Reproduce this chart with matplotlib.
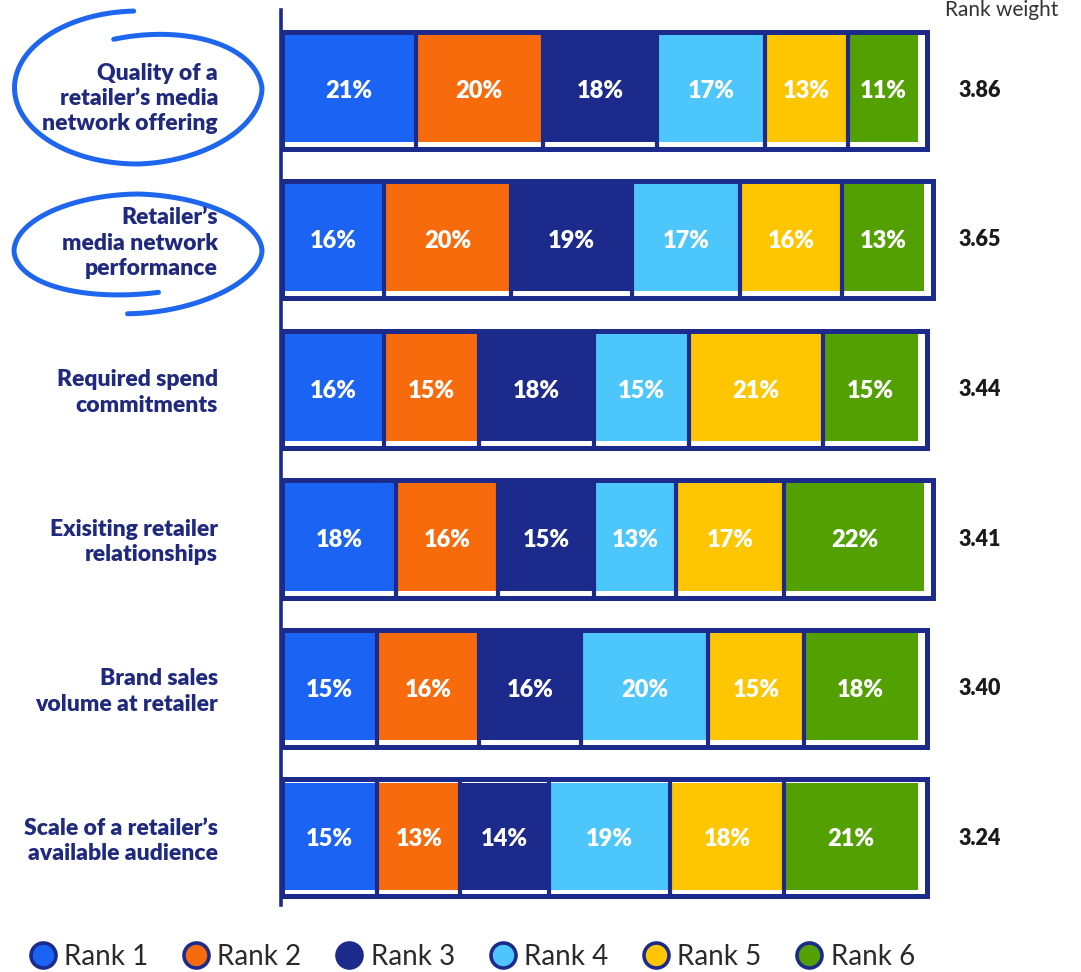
import numpy as np
import matplotlib
matplotlib.use("Agg")
import matplotlib.pyplot as plt
from matplotlib.patches import Rectangle
from matplotlib.lines import Line2D

plt.rcParams['font.family'] = ['Lato', 'DejaVu Sans']

factors = ["Quality of a\nretailer’s media\nnetwork offering",
           "Retailer’s\nmedia network\nperformance",
           "Required spend\ncommitments",
           "Exisiting retailer\nrelationships",
           "Brand sales\nvolume at retailer",
           "Scale of a retailer’s\navailable audience"]
rank1 = [21, 16, 16, 18, 15, 15]
rank2 = [20, 20, 15, 16, 16, 13]
rank3 = [18, 19, 18, 15, 16, 14]
rank4 = [17, 17, 15, 13, 20, 19]
rank5 = [13, 16, 21, 17, 15, 18]
rank6 = [11, 13, 15, 22, 18, 21]
rank_weight = ["3.86", "3.65", "3.44", "3.41", "3.40", "3.24"]
rank_names = ["Rank 1", "Rank 2", "Rank 3", "Rank 4", "Rank 5", "Rank 6"]

colors = ["#1b63f2", "#f76b0c", "#1c2a8c", "#4dc7fb", "#fec601", "#52a001"]
navy = "#1c2a8c"
label_navy = "#1f2a7e"
circle_blue = "#1f66ee"

W, H = 1081, 972
# pixel geometry of the plotting area
X0, PX = 282, 6.36      # px where 0% sits, px per 1%
Y0, PY = 88.5, 149.5    # px of first row centre, px per row


def to_data(xp, yp):
    return (np.asarray(xp) - X0) / PX, (np.asarray(yp) - Y0) / PY


fig = plt.figure(figsize=(W / 100, H / 100), dpi=100)
ax = fig.add_axes([0, 0, 1, 1])
ax.set_xlim(-X0 / PX, (W - X0) / PX)
ax.set_ylim((H - Y0) / PY, -Y0 / PY)
ax.axis('off')

series = [rank1, rank2, rank3, rank4, rank5, rank6]
ypos = np.arange(len(factors))
bh = 107 / PY
left = np.zeros(len(factors))
for vals, c in zip(series, colors):
    vals = np.array(vals, dtype=float)
    ax.barh(ypos, vals, left=left, height=bh, color=c, zorder=2)
    for y, l, v in zip(ypos, left, vals):
        ax.text(l + v / 2, y + 3 / PY, f"{int(v)}%", ha='center', va='center',
                color='white', fontsize=17, fontweight='heavy', zorder=4)
    left = left + vals

# hand-drawn style outlines
top_off = 3 / PY
bot_off = 7 / PY
right_off = 9 / PX
for i in ypos:
    total = sum(s[i] for s in series)
    ax.add_patch(Rectangle((0, i - bh / 2 - top_off), total + right_off,
                           bh + top_off + bot_off, fill=False,
                           edgecolor=navy, lw=3.6, zorder=3))
    cum = 0
    for s in series[:-1]:
        cum += s[i]
        ax.plot([cum, cum], [i - bh / 2 - top_off, i + bh / 2 + bot_off],
                color=navy, lw=3.0, zorder=3, solid_capstyle='butt')

# left axis line
xa, ya = to_data([281, 281], [10, 905])
ax.plot(xa, ya, color=navy, lw=2.6, zorder=3)

# category labels
lx, _ = to_data(218, 0)
for i, f in enumerate(factors):
    dy = 10 / PY if i == 0 else 5 / PY
    ax.text(lx, i + dy, f, ha='right', va='center', color=label_navy,
            fontsize=16.5, fontweight='heavy', linespacing=1.25)

# rank weight column
wx, _ = to_data(980, 0)
for i, w in enumerate(rank_weight):
    ax.text(wx, i + 2 / PY, w, ha='center', va='center', color='#1a1a1a',
            fontsize=15.5, fontweight='heavy')
hx, hy = to_data(1002, 10)
ax.text(hx, hy, "Rank weight", ha='center', va='center', color='#333333',
        fontsize=15)


# hand-drawn circles around the first two labels
def scribble(cx, cy, t_knots, a_knots, b_knots, t_range):
    t = np.linspace(t_range[0], t_range[1], 400)
    a = np.interp(t, t_knots, a_knots)
    b = np.interp(t, t_knots, b_knots)
    xp = cx + a * np.cos(np.radians(t))
    yp = cy - b * np.sin(np.radians(t))
    xd, yd = to_data(xp, yp)
    ax.plot(xd, yd, color=circle_blue, lw=3.6, solid_capstyle='round', zorder=1)


scribble(138, 88, [92, 270, 360, 463], [124, 123, 124, 108], [77, 76, 70, 50], (92, 463))
scribble(138, 251, [-95, 0, 90, 180, 280], [120, 124, 122, 124, 118],
         [63, 52, 57, 55, 42], (280, -95))

# legend
handles = [Line2D([], [], marker='o', ls='', markersize=18, markerfacecolor=c,
                  markeredgecolor=navy, markeredgewidth=2.6) for c in colors]
fig.legend(handles, rank_names, loc='center left',
           bbox_to_anchor=(30 / W, 1 - 957 / H), ncol=6, frameon=False,
           fontsize=20, handlelength=0.9, handletextpad=0.32,
           columnspacing=1.27, borderpad=0, borderaxespad=0,
           labelcolor='#2a2a2a')

fig.savefig("out.png", dpi=100)
